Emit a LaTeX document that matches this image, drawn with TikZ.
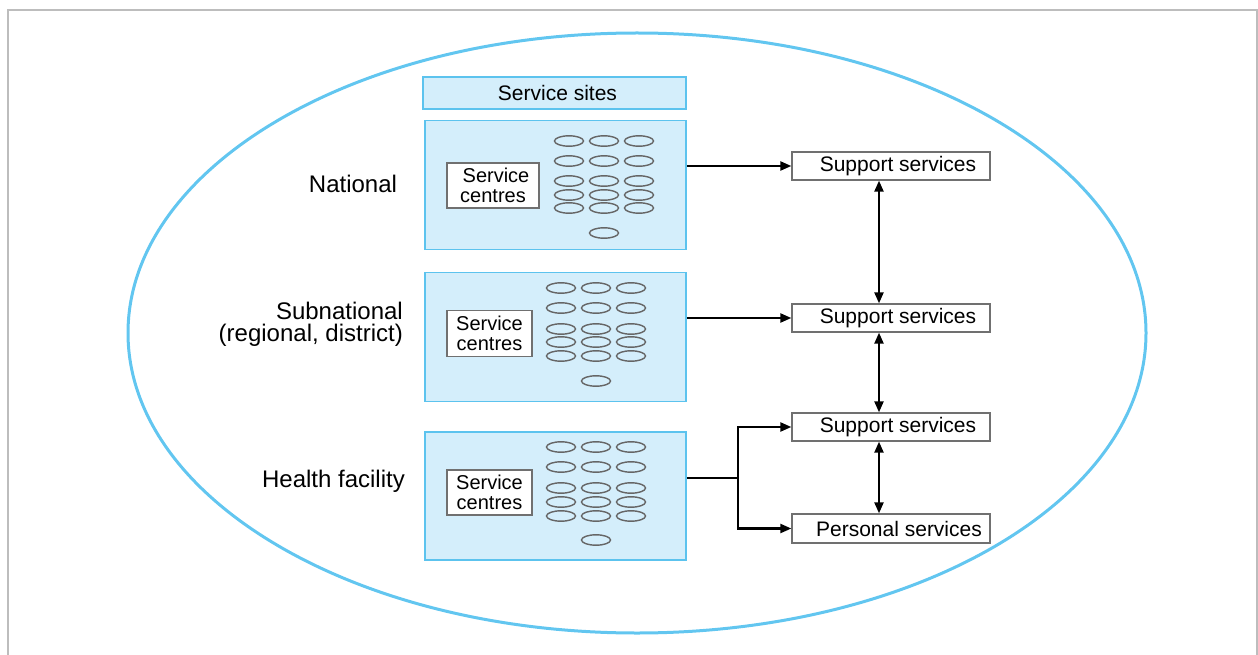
\documentclass[tikz,border=0pt]{standalone}
\usepackage{fontspec}
\setmainfont{Liberation Sans}
\usetikzlibrary{arrows.meta}
\definecolor{ringblue}{HTML}{62C6F0}
\definecolor{blkfill}{HTML}{D4EEFB}
\definecolor{blkline}{HTML}{5CC3EE}
\definecolor{boxline}{HTML}{707070}
\definecolor{ovalline}{HTML}{666666}
\definecolor{framegray}{HTML}{BDBDBD}
\tikzset{
  blk/.style={draw=blkline, fill=blkfill, line width=1.5pt, inner sep=0pt},
  cbox/.style={draw=boxline, fill=white, line width=1.3pt, inner sep=0pt, align=center,
    font=\fontsize{20}{19.5}\selectfont},
  sbox/.style={draw=boxline, fill=white, line width=1.3pt, inner sep=0pt,
    minimum width=198pt, minimum height=28pt, font=\fontsize{21}{24}\selectfont},
  lvl/.style={inner sep=0pt, font=\fontsize{24}{22}\selectfont},
  oval/.style={draw=ovalline, line width=1.4pt},
  arr/.style={line width=2.2pt, -{Triangle[length=11pt,width=9pt]}},
  darr/.style={line width=2.2pt, {Triangle[length=11pt,width=9pt]}-{Triangle[length=11pt,width=9pt]}},
  plain/.style={line width=2.2pt}
}
\begin{document}
\begin{tikzpicture}[x=1pt,y=-1pt]
\useasboundingbox (0,0) rectangle (1258,655);
% frame
\draw[framegray, line width=1.5pt] (8,655) -- (8,10) -- (1257,10) -- (1257,655);
% outer ellipse
\draw[ringblue, line width=3pt] (637,333) ellipse [x radius=509, y radius=300];

% service sites header
\node[blk, minimum width=263pt, minimum height=32pt, font=\fontsize{21}{24}\selectfont] (hdr) at (554.5,93) {\hspace*{6pt}Service sites};

% level blocks
\node[blk, minimum width=261pt, minimum height=129pt] (n1) at (555.5,185) {};
\node[blk, minimum width=261pt, minimum height=129pt] (n2) at (555.5,337) {};
\node[blk, minimum width=261pt, minimum height=128pt] (n3) at (555.5,496) {};

% service centres boxes
\node[cbox, minimum width=92pt, minimum height=45pt] (c1) at (493,185.5) {\hspace*{6pt}Service\\centres};
\node[cbox, minimum width=85pt, minimum height=46pt] (c2) at (489.5,333.5) {Service\\centres};
\node[cbox, minimum width=85pt, minimum height=45pt] (c3) at (489.5,492.5) {Service\\centres};

% ovals block 1
\foreach \y in {141,161,181,195,208}
  \foreach \x in {569,604,639}
    \draw[oval] (\x,\y) ellipse [x radius=14.5, y radius=5.2];
\draw[oval] (604,233) ellipse [x radius=14.5, y radius=5.2];
% ovals block 2
\foreach \y in {288,308,329,342,356}
  \foreach \x in {561,596,631}
    \draw[oval] (\x,\y) ellipse [x radius=14.5, y radius=5.2];
\draw[oval] (596,381) ellipse [x radius=14.5, y radius=5.2];
% ovals block 3
\foreach \y in {447,467,488,502,516}
  \foreach \x in {561,596,631}
    \draw[oval] (\x,\y) ellipse [x radius=14.5, y radius=5.2];
\draw[oval] (596,540) ellipse [x radius=14.5, y radius=5.2];

% level labels
\node[lvl] (l1) at (353,184) {National};
\node[lvl, align=right, anchor=east] (l2) at (403,324) {Subnational\\(regional, district)};
\node[lvl] (l3) at (333.5,481) {Health facility};

% support / personal services
\node[sbox] (s1) at (891,166) {\hspace*{14pt}Support services};
\node[sbox] (s2) at (891,318) {\hspace*{14pt}Support services};
\node[sbox] (s3) at (891,427) {\hspace*{14pt}Support services};
\node[sbox, minimum height=29pt] (p) at (891,528.5) {\hspace*{16pt}Personal services};

% connectors
\draw[arr] (n1.east |- s1.west) -- (s1.west);
\draw[arr] (n2.east |- s2.west) -- (s2.west);
\coordinate (j) at (738,478);
\draw[plain] (n3.east |- j) -- (j);
\draw[arr] (j) |- (s3.west);
\draw[arr] (j) |- (p.west);
\draw[darr] ([xshift=-12pt]s1.south) -- ([xshift=-12pt]s2.north);
\draw[darr] ([xshift=-12pt]s2.south) -- ([xshift=-12pt]s3.north);
\draw[darr] ([xshift=-12pt]s3.south) -- ([xshift=-12pt]p.north);
\end{tikzpicture}
\end{document}
